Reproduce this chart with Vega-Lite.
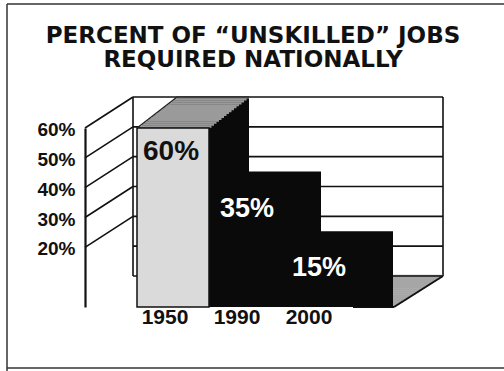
{
"$schema": "https://vega.github.io/schema/vega-lite/v6.json",
"width": 216, "height": 179,
"autosize": {"type": "none"},
"padding": {"left": 137, "top": 128, "right": 151, "bottom": 64},
"background": "white",
"title": {"text": ["PERCENT OF “UNSKILLED” JOBS", "REQUIRED NATIONALLY"], "font": "DejaVu Sans", "fontWeight": "bold", "fontSize": 23, "lineHeight": 24, "color": "#111", "anchor": "middle", "frame": "group", "dx": 8, "offset": -69},
"config": {"view": {"stroke": null}, "font": "Liberation Sans"},
"datasets": {
 "jobs": [{"year": "1950", "pct": 60, "label": "60%"}, {"year": "1990", "pct": 35, "label": "35%"}, {"year": "2000", "pct": 15, "label": "15%"}],
 "levels": [{"level": 0}, {"level": 10}, {"level": 20}, {"level": 30}, {"level": 40}, {"level": 50}, {"level": 60}]
},
"layer": [
 {"data": {"name": "levels"}, "mark": {"type": "rule", "color": "#111", "strokeWidth": 1.6, "xOffset": -40, "x2Offset": 270, "yOffset": -31},
  "encoding": {"x": {"datum": "1950", "type": "nominal"}, "x2": {"datum": "1950"}, "y": {"field": "level", "type": "quantitative"}}},
 {"data": {"values": [{}]}, "mark": {"type": "rule", "color": "#111", "strokeWidth": 1.6, "xOffset": -40, "yOffset": -31, "y2Offset": -31},
  "encoding": {"x": {"datum": "1950", "type": "nominal"}, "y": {"datum": 60, "type": "quantitative"}, "y2": {"datum": 0}}},
 {"data": {"values": [{}]}, "mark": {"type": "rule", "color": "#111", "strokeWidth": 1.6, "xOffset": 270, "yOffset": -31, "y2Offset": -31},
  "encoding": {"x": {"datum": "1950", "type": "nominal"}, "y": {"datum": 60, "type": "quantitative"}, "y2": {"datum": 0}}},
 {"data": {"name": "levels"}, "transform": [{"filter": "datum.level >= 20"}], "mark": {"type": "rule", "color": "#111", "strokeWidth": 1.6, "xOffset": -88, "x2Offset": -40, "y2Offset": -31},
  "encoding": {"x": {"datum": "1950", "type": "nominal"}, "x2": {"datum": "1950"}, "y": {"field": "level", "type": "quantitative"}, "y2": {"field": "level"}}},

 {"data": {"values": [{}]}, "mark": {"type": "rule", "color": "#a6a6a6", "strokeWidth": 2.4, "xOffset": 36.5, "x2Offset": 80.06, "yOffset": -1.94}, "encoding": {"x": {"datum": "2000", "type": "nominal"}, "x2": {"datum": "2000"}, "y": {"datum": 0, "type": "quantitative"}}},
 {"data": {"values": [{}]}, "mark": {"type": "rule", "color": "#a6a6a6", "strokeWidth": 2.4, "xOffset": 39, "x2Offset": 83.12, "yOffset": -3.88}, "encoding": {"x": {"datum": "2000", "type": "nominal"}, "x2": {"datum": "2000"}, "y": {"datum": 0, "type": "quantitative"}}},
 {"data": {"values": [{}]}, "mark": {"type": "rule", "color": "#a6a6a6", "strokeWidth": 2.4, "xOffset": 41.5, "x2Offset": 86.18, "yOffset": -5.81}, "encoding": {"x": {"datum": "2000", "type": "nominal"}, "x2": {"datum": "2000"}, "y": {"datum": 0, "type": "quantitative"}}},
 {"data": {"values": [{}]}, "mark": {"type": "rule", "color": "#a6a6a6", "strokeWidth": 2.4, "xOffset": 44, "x2Offset": 89.24, "yOffset": -7.75}, "encoding": {"x": {"datum": "2000", "type": "nominal"}, "x2": {"datum": "2000"}, "y": {"datum": 0, "type": "quantitative"}}},
 {"data": {"values": [{}]}, "mark": {"type": "rule", "color": "#a6a6a6", "strokeWidth": 2.4, "xOffset": 46.5, "x2Offset": 92.3, "yOffset": -9.69}, "encoding": {"x": {"datum": "2000", "type": "nominal"}, "x2": {"datum": "2000"}, "y": {"datum": 0, "type": "quantitative"}}},
 {"data": {"values": [{}]}, "mark": {"type": "rule", "color": "#a6a6a6", "strokeWidth": 2.4, "xOffset": 49, "x2Offset": 95.36, "yOffset": -11.63}, "encoding": {"x": {"datum": "2000", "type": "nominal"}, "x2": {"datum": "2000"}, "y": {"datum": 0, "type": "quantitative"}}},
 {"data": {"values": [{}]}, "mark": {"type": "rule", "color": "#a6a6a6", "strokeWidth": 2.4, "xOffset": 51.5, "x2Offset": 98.42, "yOffset": -13.56}, "encoding": {"x": {"datum": "2000", "type": "nominal"}, "x2": {"datum": "2000"}, "y": {"datum": 0, "type": "quantitative"}}},
 {"data": {"values": [{}]}, "mark": {"type": "rule", "color": "#a6a6a6", "strokeWidth": 2.4, "xOffset": 54, "x2Offset": 101.48, "yOffset": -15.5}, "encoding": {"x": {"datum": "2000", "type": "nominal"}, "x2": {"datum": "2000"}, "y": {"datum": 0, "type": "quantitative"}}},
 {"data": {"values": [{}]}, "mark": {"type": "rule", "color": "#a6a6a6", "strokeWidth": 2.4, "xOffset": 56.5, "x2Offset": 104.54, "yOffset": -17.44}, "encoding": {"x": {"datum": "2000", "type": "nominal"}, "x2": {"datum": "2000"}, "y": {"datum": 0, "type": "quantitative"}}},
 {"data": {"values": [{}]}, "mark": {"type": "rule", "color": "#a6a6a6", "strokeWidth": 2.4, "xOffset": 59, "x2Offset": 107.6, "yOffset": -19.38}, "encoding": {"x": {"datum": "2000", "type": "nominal"}, "x2": {"datum": "2000"}, "y": {"datum": 0, "type": "quantitative"}}},
 {"data": {"values": [{}]}, "mark": {"type": "rule", "color": "#a6a6a6", "strokeWidth": 2.4, "xOffset": 61.5, "x2Offset": 110.66, "yOffset": -21.31}, "encoding": {"x": {"datum": "2000", "type": "nominal"}, "x2": {"datum": "2000"}, "y": {"datum": 0, "type": "quantitative"}}},
 {"data": {"values": [{}]}, "mark": {"type": "rule", "color": "#a6a6a6", "strokeWidth": 2.4, "xOffset": 64, "x2Offset": 113.72, "yOffset": -23.25}, "encoding": {"x": {"datum": "2000", "type": "nominal"}, "x2": {"datum": "2000"}, "y": {"datum": 0, "type": "quantitative"}}},
 {"data": {"values": [{}]}, "mark": {"type": "rule", "color": "#a6a6a6", "strokeWidth": 2.4, "xOffset": 66.5, "x2Offset": 116.78, "yOffset": -25.19}, "encoding": {"x": {"datum": "2000", "type": "nominal"}, "x2": {"datum": "2000"}, "y": {"datum": 0, "type": "quantitative"}}},
 {"data": {"values": [{}]}, "mark": {"type": "rule", "color": "#a6a6a6", "strokeWidth": 2.4, "xOffset": 69, "x2Offset": 119.84, "yOffset": -27.13}, "encoding": {"x": {"datum": "2000", "type": "nominal"}, "x2": {"datum": "2000"}, "y": {"datum": 0, "type": "quantitative"}}},
 {"data": {"values": [{}]}, "mark": {"type": "rule", "color": "#a6a6a6", "strokeWidth": 2.4, "xOffset": 71.5, "x2Offset": 122.9, "yOffset": -29.06}, "encoding": {"x": {"datum": "2000", "type": "nominal"}, "x2": {"datum": "2000"}, "y": {"datum": 0, "type": "quantitative"}}},
 {"data": {"values": [{}]}, "mark": {"type": "rule", "color": "#a6a6a6", "strokeWidth": 2.4, "xOffset": 74, "x2Offset": 125.96, "yOffset": -31}, "encoding": {"x": {"datum": "2000", "type": "nominal"}, "x2": {"datum": "2000"}, "y": {"datum": 0, "type": "quantitative"}}},

 {"data": {"values": [{}]}, "mark": {"type": "rule", "color": "#111", "strokeWidth": 2, "xOffset": 36, "x2Offset": 77}, "encoding": {"x": {"datum": "2000", "type": "nominal"}, "x2": {"datum": "2000"}, "y": {"datum": 0, "type": "quantitative"}}},
 {"data": {"values": [{}]}, "mark": {"type": "rule", "color": "#111", "strokeWidth": 2, "xOffset": 77, "x2Offset": 126, "y2Offset": -31}, "encoding": {"x": {"datum": "2000", "type": "nominal"}, "x2": {"datum": "2000"}, "y": {"datum": 0, "type": "quantitative"}, "y2": {"datum": 0}}},
 {"data": {"values": [{}]}, "mark": {"type": "rule", "color": "#111", "strokeWidth": 1.6, "xOffset": 74, "x2Offset": 126, "yOffset": -31}, "encoding": {"x": {"datum": "2000", "type": "nominal"}, "x2": {"datum": "2000"}, "y": {"datum": 0, "type": "quantitative"}}},

 {"data": {"name": "jobs"}, "mark": {"type": "bar", "color": "#0a0a0a", "xOffset": 40, "yOffset": -31, "y2Offset": -31}, "encoding": {"x": {"field": "year", "type": "nominal"}, "y": {"field": "pct", "type": "quantitative", "stack": null}}},
 {"data": {"name": "jobs"}, "mark": {"type": "bar", "color": "#0a0a0a", "xOffset": 37.5, "yOffset": -29.06, "y2Offset": -29.06}, "encoding": {"x": {"field": "year", "type": "nominal"}, "y": {"field": "pct", "type": "quantitative", "stack": null}}},
 {"data": {"name": "jobs"}, "mark": {"type": "bar", "color": "#0a0a0a", "xOffset": 35, "yOffset": -27.13, "y2Offset": -27.13}, "encoding": {"x": {"field": "year", "type": "nominal"}, "y": {"field": "pct", "type": "quantitative", "stack": null}}},
 {"data": {"name": "jobs"}, "mark": {"type": "bar", "color": "#0a0a0a", "xOffset": 32.5, "yOffset": -25.19, "y2Offset": -25.19}, "encoding": {"x": {"field": "year", "type": "nominal"}, "y": {"field": "pct", "type": "quantitative", "stack": null}}},
 {"data": {"name": "jobs"}, "mark": {"type": "bar", "color": "#0a0a0a", "xOffset": 30, "yOffset": -23.25, "y2Offset": -23.25}, "encoding": {"x": {"field": "year", "type": "nominal"}, "y": {"field": "pct", "type": "quantitative", "stack": null}}},
 {"data": {"name": "jobs"}, "mark": {"type": "bar", "color": "#0a0a0a", "xOffset": 27.5, "yOffset": -21.31, "y2Offset": -21.31}, "encoding": {"x": {"field": "year", "type": "nominal"}, "y": {"field": "pct", "type": "quantitative", "stack": null}}},
 {"data": {"name": "jobs"}, "mark": {"type": "bar", "color": "#0a0a0a", "xOffset": 25, "yOffset": -19.38, "y2Offset": -19.38}, "encoding": {"x": {"field": "year", "type": "nominal"}, "y": {"field": "pct", "type": "quantitative", "stack": null}}},
 {"data": {"name": "jobs"}, "mark": {"type": "bar", "color": "#0a0a0a", "xOffset": 22.5, "yOffset": -17.44, "y2Offset": -17.44}, "encoding": {"x": {"field": "year", "type": "nominal"}, "y": {"field": "pct", "type": "quantitative", "stack": null}}},
 {"data": {"name": "jobs"}, "mark": {"type": "bar", "color": "#0a0a0a", "xOffset": 20, "yOffset": -15.5, "y2Offset": -15.5}, "encoding": {"x": {"field": "year", "type": "nominal"}, "y": {"field": "pct", "type": "quantitative", "stack": null}}},
 {"data": {"name": "jobs"}, "mark": {"type": "bar", "color": "#0a0a0a", "xOffset": 17.5, "yOffset": -13.56, "y2Offset": -13.56}, "encoding": {"x": {"field": "year", "type": "nominal"}, "y": {"field": "pct", "type": "quantitative", "stack": null}}},
 {"data": {"name": "jobs"}, "mark": {"type": "bar", "color": "#0a0a0a", "xOffset": 15, "yOffset": -11.63, "y2Offset": -11.63}, "encoding": {"x": {"field": "year", "type": "nominal"}, "y": {"field": "pct", "type": "quantitative", "stack": null}}},
 {"data": {"name": "jobs"}, "mark": {"type": "bar", "color": "#0a0a0a", "xOffset": 12.5, "yOffset": -9.69, "y2Offset": -9.69}, "encoding": {"x": {"field": "year", "type": "nominal"}, "y": {"field": "pct", "type": "quantitative", "stack": null}}},
 {"data": {"name": "jobs"}, "mark": {"type": "bar", "color": "#0a0a0a", "xOffset": 10, "yOffset": -7.75, "y2Offset": -7.75}, "encoding": {"x": {"field": "year", "type": "nominal"}, "y": {"field": "pct", "type": "quantitative", "stack": null}}},
 {"data": {"name": "jobs"}, "mark": {"type": "bar", "color": "#0a0a0a", "xOffset": 7.5, "yOffset": -5.81, "y2Offset": -5.81}, "encoding": {"x": {"field": "year", "type": "nominal"}, "y": {"field": "pct", "type": "quantitative", "stack": null}}},
 {"data": {"name": "jobs"}, "mark": {"type": "bar", "color": "#0a0a0a", "xOffset": 5, "yOffset": -3.88, "y2Offset": -3.88}, "encoding": {"x": {"field": "year", "type": "nominal"}, "y": {"field": "pct", "type": "quantitative", "stack": null}}},
 {"data": {"name": "jobs"}, "mark": {"type": "bar", "color": "#0a0a0a", "xOffset": 2.5, "yOffset": -1.94, "y2Offset": -1.94}, "encoding": {"x": {"field": "year", "type": "nominal"}, "y": {"field": "pct", "type": "quantitative", "stack": null}}},
 {"data": {"name": "jobs"}, "mark": {"type": "bar", "color": "#0a0a0a"},
  "encoding": {
   "x": {"field": "year", "type": "nominal", "scale": {"type": "band", "domain": ["1950", "1990", "2000"], "paddingInner": 0, "paddingOuter": 0},
         "axis": {"title": null, "labelAngle": 0, "labelAlign": "center", "ticks": false, "domain": false, "grid": false, "labelPadding": 10, "labelFont": "Liberation Sans", "labelFontSize": 21, "labelFontWeight": "bold", "labelColor": "#111", "labelOffset": -8}},
   "y": {"field": "pct", "type": "quantitative", "stack": null, "scale": {"domain": [0, 60], "nice": false, "zero": true},
         "axis": {"title": null, "values": [20, 30, 40, 50, 60], "labelExpr": "datum.value + '%'", "offset": 52, "ticks": false, "grid": false, "domain": true, "domainColor": "#111", "domainWidth": 2.2, "labelPadding": 10, "labelFont": "Liberation Sans", "labelFontSize": 19, "labelFontWeight": "bold", "labelColor": "#111", "labelOffset": 1.5}}}},

 {"data": {"name": "jobs"}, "transform": [{"filter": "datum.year == '1950'"}], "mark": {"type": "bar", "color": "#9a9a9a", "xOffset": 2.5, "yOffset": -2.54, "y2Offset": -0.34}, "encoding": {"x": {"field": "year", "type": "nominal"}, "y": {"field": "pct", "type": "quantitative", "stack": null}, "y2": {"field": "pct"}}},
 {"data": {"name": "jobs"}, "transform": [{"filter": "datum.year == '1950'"}], "mark": {"type": "bar", "color": "#9a9a9a", "xOffset": 5, "yOffset": -4.48, "y2Offset": -2.28}, "encoding": {"x": {"field": "year", "type": "nominal"}, "y": {"field": "pct", "type": "quantitative", "stack": null}, "y2": {"field": "pct"}}},
 {"data": {"name": "jobs"}, "transform": [{"filter": "datum.year == '1950'"}], "mark": {"type": "bar", "color": "#9a9a9a", "xOffset": 7.5, "yOffset": -6.41, "y2Offset": -4.21}, "encoding": {"x": {"field": "year", "type": "nominal"}, "y": {"field": "pct", "type": "quantitative", "stack": null}, "y2": {"field": "pct"}}},
 {"data": {"name": "jobs"}, "transform": [{"filter": "datum.year == '1950'"}], "mark": {"type": "bar", "color": "#9a9a9a", "xOffset": 10, "yOffset": -8.35, "y2Offset": -6.15}, "encoding": {"x": {"field": "year", "type": "nominal"}, "y": {"field": "pct", "type": "quantitative", "stack": null}, "y2": {"field": "pct"}}},
 {"data": {"name": "jobs"}, "transform": [{"filter": "datum.year == '1950'"}], "mark": {"type": "bar", "color": "#9a9a9a", "xOffset": 12.5, "yOffset": -10.29, "y2Offset": -8.09}, "encoding": {"x": {"field": "year", "type": "nominal"}, "y": {"field": "pct", "type": "quantitative", "stack": null}, "y2": {"field": "pct"}}},
 {"data": {"name": "jobs"}, "transform": [{"filter": "datum.year == '1950'"}], "mark": {"type": "bar", "color": "#9a9a9a", "xOffset": 15, "yOffset": -12.23, "y2Offset": -10.03}, "encoding": {"x": {"field": "year", "type": "nominal"}, "y": {"field": "pct", "type": "quantitative", "stack": null}, "y2": {"field": "pct"}}},
 {"data": {"name": "jobs"}, "transform": [{"filter": "datum.year == '1950'"}], "mark": {"type": "bar", "color": "#9a9a9a", "xOffset": 17.5, "yOffset": -14.16, "y2Offset": -11.96}, "encoding": {"x": {"field": "year", "type": "nominal"}, "y": {"field": "pct", "type": "quantitative", "stack": null}, "y2": {"field": "pct"}}},
 {"data": {"name": "jobs"}, "transform": [{"filter": "datum.year == '1950'"}], "mark": {"type": "bar", "color": "#9a9a9a", "xOffset": 20, "yOffset": -16.1, "y2Offset": -13.9}, "encoding": {"x": {"field": "year", "type": "nominal"}, "y": {"field": "pct", "type": "quantitative", "stack": null}, "y2": {"field": "pct"}}},
 {"data": {"name": "jobs"}, "transform": [{"filter": "datum.year == '1950'"}], "mark": {"type": "bar", "color": "#9a9a9a", "xOffset": 22.5, "yOffset": -18.04, "y2Offset": -15.84}, "encoding": {"x": {"field": "year", "type": "nominal"}, "y": {"field": "pct", "type": "quantitative", "stack": null}, "y2": {"field": "pct"}}},
 {"data": {"name": "jobs"}, "transform": [{"filter": "datum.year == '1950'"}], "mark": {"type": "bar", "color": "#9a9a9a", "xOffset": 25, "yOffset": -19.98, "y2Offset": -17.78}, "encoding": {"x": {"field": "year", "type": "nominal"}, "y": {"field": "pct", "type": "quantitative", "stack": null}, "y2": {"field": "pct"}}},
 {"data": {"name": "jobs"}, "transform": [{"filter": "datum.year == '1950'"}], "mark": {"type": "bar", "color": "#9a9a9a", "xOffset": 27.5, "yOffset": -21.91, "y2Offset": -19.71}, "encoding": {"x": {"field": "year", "type": "nominal"}, "y": {"field": "pct", "type": "quantitative", "stack": null}, "y2": {"field": "pct"}}},
 {"data": {"name": "jobs"}, "transform": [{"filter": "datum.year == '1950'"}], "mark": {"type": "bar", "color": "#9a9a9a", "xOffset": 30, "yOffset": -23.85, "y2Offset": -21.65}, "encoding": {"x": {"field": "year", "type": "nominal"}, "y": {"field": "pct", "type": "quantitative", "stack": null}, "y2": {"field": "pct"}}},
 {"data": {"name": "jobs"}, "transform": [{"filter": "datum.year == '1950'"}], "mark": {"type": "bar", "color": "#9a9a9a", "xOffset": 32.5, "yOffset": -25.79, "y2Offset": -23.59}, "encoding": {"x": {"field": "year", "type": "nominal"}, "y": {"field": "pct", "type": "quantitative", "stack": null}, "y2": {"field": "pct"}}},
 {"data": {"name": "jobs"}, "transform": [{"filter": "datum.year == '1950'"}], "mark": {"type": "bar", "color": "#9a9a9a", "xOffset": 35, "yOffset": -27.73, "y2Offset": -25.53}, "encoding": {"x": {"field": "year", "type": "nominal"}, "y": {"field": "pct", "type": "quantitative", "stack": null}, "y2": {"field": "pct"}}},
 {"data": {"name": "jobs"}, "transform": [{"filter": "datum.year == '1950'"}], "mark": {"type": "bar", "color": "#9a9a9a", "xOffset": 37.5, "yOffset": -29.66, "y2Offset": -27.46}, "encoding": {"x": {"field": "year", "type": "nominal"}, "y": {"field": "pct", "type": "quantitative", "stack": null}, "y2": {"field": "pct"}}},
 {"data": {"name": "jobs"}, "transform": [{"filter": "datum.year == '1950'"}], "mark": {"type": "bar", "color": "#9a9a9a", "xOffset": 40, "yOffset": -31.6, "y2Offset": -29.4}, "encoding": {"x": {"field": "year", "type": "nominal"}, "y": {"field": "pct", "type": "quantitative", "stack": null}, "y2": {"field": "pct"}}},

 {"data": {"name": "jobs"}, "transform": [{"filter": "datum.year == '1950'"}], "mark": {"type": "bar", "color": "#dadada", "stroke": "#111", "strokeWidth": 1.5}, "encoding": {"x": {"field": "year", "type": "nominal"}, "y": {"field": "pct", "type": "quantitative", "stack": null}}},
 {"data": {"values": [{}]}, "mark": {"type": "rule", "color": "#222", "strokeWidth": 1.2, "xOffset": -36, "x2Offset": 4, "y2Offset": -31}, "encoding": {"x": {"datum": "1950", "type": "nominal"}, "x2": {"datum": "1950"}, "y": {"datum": 60, "type": "quantitative"}, "y2": {"datum": 60}}},
 {"data": {"values": [{}]}, "mark": {"type": "rule", "color": "#222", "strokeWidth": 1.4, "xOffset": 4, "x2Offset": 76, "yOffset": -31}, "encoding": {"x": {"datum": "1950", "type": "nominal"}, "x2": {"datum": "1950"}, "y": {"datum": 60, "type": "quantitative"}}},

 {"data": {"name": "jobs"}, "transform": [{"filter": "datum.year == '1950'"}], "mark": {"type": "text", "font": "Liberation Sans", "fontWeight": "bold", "fontSize": 28, "color": "#111", "baseline": "alphabetic", "dy": 32, "dx": -2}, "encoding": {"x": {"field": "year", "type": "nominal"}, "y": {"field": "pct", "type": "quantitative", "stack": null}, "text": {"field": "label"}}},
 {"data": {"name": "jobs"}, "transform": [{"filter": "datum.year != '1950'"}], "mark": {"type": "text", "font": "Liberation Sans", "fontWeight": "bold", "fontSize": 27, "color": "white", "baseline": "alphabetic", "dy": 14, "dx": 2}, "encoding": {"x": {"field": "year", "type": "nominal"}, "y": {"field": "pct", "type": "quantitative", "stack": null}, "text": {"field": "label"}}},

 {"data": {"values": [{}]}, "mark": {"type": "rule", "color": "#333", "strokeWidth": 1.5, "xOffset": -166, "yOffset": -124, "y2Offset": 64}, "encoding": {"x": {"datum": "1950", "type": "nominal"}, "y": {"datum": 60, "type": "quantitative"}, "y2": {"datum": 0}}},
 {"data": {"values": [{}]}, "mark": {"type": "rule", "color": "#333", "strokeWidth": 1.5, "xOffset": -166, "x2Offset": 331, "yOffset": -124}, "encoding": {"x": {"datum": "1950", "type": "nominal"}, "x2": {"datum": "1950"}, "y": {"datum": 60, "type": "quantitative"}}},
 {"data": {"values": [{}]}, "mark": {"type": "rule", "color": "#333", "strokeWidth": 1.5, "xOffset": -166, "x2Offset": 331, "yOffset": 61}, "encoding": {"x": {"datum": "1950", "type": "nominal"}, "x2": {"datum": "1950"}, "y": {"datum": 0, "type": "quantitative"}}}
]
}
